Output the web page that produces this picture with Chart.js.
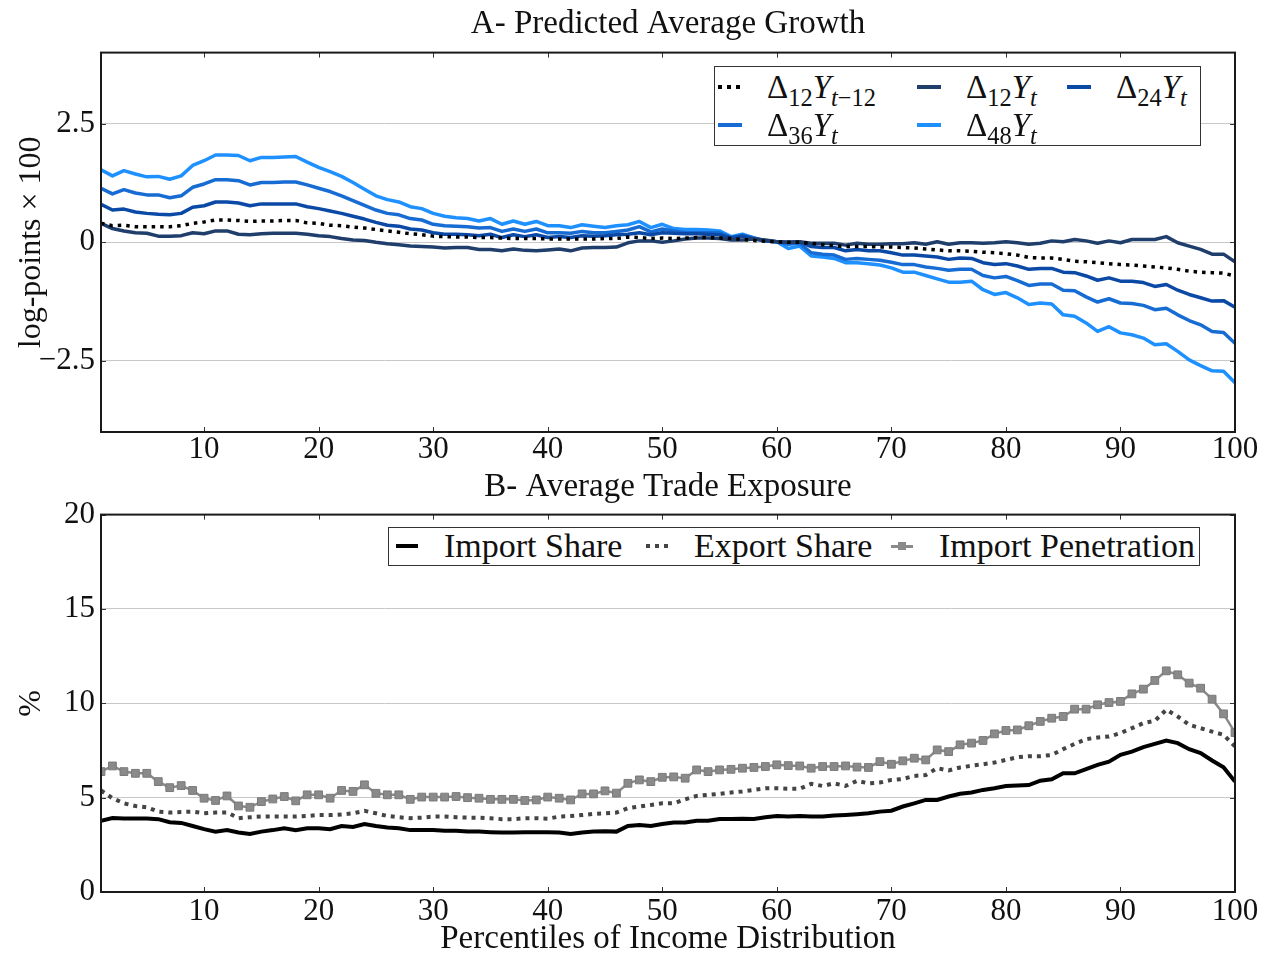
<!DOCTYPE html>
<html>
<head>
<meta charset="utf-8">
<script src="https://cdn.jsdelivr.net/npm/chart.js@4.4.1/dist/chart.umd.min.js"></script>
<style>
  body { margin: 0; background: #fff; }
  #wrap { position: relative; width: 1262px; height: 953px; font-family: "Liberation Serif", serif; }
  canvas { position: absolute; left: 0; }
  #growth { top: 0; }
  #trade { top: 462px; }
  .legend { position: absolute; background: #fff; border: 1px solid #333; box-sizing: border-box; }
  .item { position: absolute; display: flex; align-items: center; font-size: 33px; color: #111; white-space: nowrap; height: 36px; }
  .item i { font-style: italic; }
  .sw { position: relative; width: 24px; height: 10px; margin-right: 25px; }
  sub { font-size: 0.74em; vertical-align: -0.32em; line-height: 0; }
  #tradeLegend .item { font-size: 34px; }
  #tradeLegend .sw { width: 22px; margin-right: 26px; }
</style>
</head>
<body>
<div id="wrap">
  <canvas id="growth" width="1262" height="470"></canvas>
  <canvas id="trade" width="1262" height="491"></canvas>
  <div id="growthLegend" class="legend" style="left:714px;top:66px;width:487px;height:80px;"></div>
  <div id="tradeLegend" class="legend" style="left:388px;top:527px;width:812px;height:39px;"></div>
</div>
<script>
// x categories: income percentiles
const percentiles = Array.from({ length: 100 }, (_, i) => i + 1);
const xTicks = [10, 20, 30, 40, 50, 60, 70, 80, 90, 100];

// PANEL A - predicted average growth (log-points x 100)
const growthLabels = [
  "Δ<sub>12</sub><i>Y</i><sub><i>t</i>−12</sub>",
  "Δ<sub>12</sub><i>Y</i><sub><i>t</i></sub>",
  "Δ<sub>24</sub><i>Y</i><sub><i>t</i></sub>",
  "Δ<sub>36</sub><i>Y</i><sub><i>t</i></sub>",
  "Δ<sub>48</sub><i>Y</i><sub><i>t</i></sub>",
];
const growthTicks = [-2.5, 0, 2.5];

const d12lag = [
  0.40, 0.35, 0.36, 0.33, 0.33, 0.33, 0.33, 0.35, 0.40, 0.43,
  0.47, 0.47, 0.46, 0.44, 0.45, 0.45, 0.46, 0.46, 0.41, 0.40,
  0.36, 0.35, 0.32, 0.30, 0.27, 0.24, 0.21, 0.18, 0.16, 0.13,
  0.12, 0.11, 0.11, 0.10, 0.10, 0.09, 0.08, 0.08, 0.08, 0.07,
  0.07, 0.07, 0.07, 0.07, 0.08, 0.08, 0.11, 0.10, 0.08, 0.09,
  0.08, 0.09, 0.10, 0.10, 0.09, 0.08, 0.06, 0.04, 0.02, 0.01,
  0.00, 0.00, -0.02, -0.05, -0.07, -0.09, -0.09, -0.09, -0.10, -0.10,
  -0.11, -0.12, -0.14, -0.16, -0.18, -0.18, -0.19, -0.21, -0.22, -0.24,
  -0.27, -0.32, -0.33, -0.33, -0.36, -0.40, -0.41, -0.43, -0.45, -0.47,
  -0.48, -0.50, -0.52, -0.54, -0.57, -0.61, -0.63, -0.64, -0.65, -0.71,
];
const d12 = [
  0.40, 0.29, 0.24, 0.20, 0.19, 0.13, 0.13, 0.14, 0.20, 0.18,
  0.24, 0.24, 0.17, 0.16, 0.18, 0.19, 0.19, 0.19, 0.17, 0.14,
  0.12, 0.08, 0.05, 0.04, 0.00, -0.03, -0.05, -0.08, -0.09, -0.10,
  -0.12, -0.11, -0.11, -0.15, -0.15, -0.18, -0.14, -0.17, -0.18, -0.16,
  -0.14, -0.18, -0.12, -0.11, -0.11, -0.10, -0.01, 0.03, 0.03, 0.00,
  0.03, 0.07, 0.09, 0.09, 0.08, 0.05, 0.05, 0.07, 0.05, 0.01,
  0.00, 0.01, -0.02, -0.02, -0.02, -0.06, -0.02, -0.04, -0.04, -0.03,
  -0.03, -0.01, -0.04, 0.01, -0.04, -0.01, -0.01, -0.02, -0.01, 0.01,
  -0.01, -0.04, -0.02, 0.03, 0.01, 0.06, 0.03, -0.02, 0.03, -0.01,
  0.06, 0.06, 0.06, 0.12, -0.01, -0.08, -0.15, -0.25, -0.25, -0.41,
];
const d24 = [
  0.80, 0.68, 0.70, 0.64, 0.61, 0.59, 0.58, 0.61, 0.74, 0.77,
  0.85, 0.85, 0.83, 0.77, 0.81, 0.81, 0.81, 0.81, 0.75, 0.71,
  0.66, 0.61, 0.55, 0.49, 0.42, 0.36, 0.34, 0.28, 0.26, 0.20,
  0.17, 0.17, 0.16, 0.14, 0.17, 0.10, 0.16, 0.12, 0.16, 0.10,
  0.12, 0.10, 0.14, 0.13, 0.14, 0.16, 0.17, 0.20, 0.16, 0.20,
  0.19, 0.18, 0.18, 0.17, 0.16, 0.09, 0.13, 0.07, 0.03, 0.01,
  0.00, 0.01, -0.09, -0.11, -0.11, -0.18, -0.15, -0.18, -0.18, -0.22,
  -0.27, -0.27, -0.29, -0.31, -0.36, -0.33, -0.34, -0.43, -0.47, -0.45,
  -0.50, -0.57, -0.55, -0.55, -0.63, -0.64, -0.71, -0.80, -0.75, -0.82,
  -0.82, -0.85, -0.93, -0.89, -1.01, -1.10, -1.17, -1.24, -1.23, -1.37,
];
const d36 = [
  1.14, 1.02, 1.11, 1.04, 1.00, 1.00, 0.94, 0.98, 1.16, 1.23,
  1.32, 1.32, 1.30, 1.21, 1.26, 1.26, 1.27, 1.27, 1.21, 1.14,
  1.07, 0.98, 0.88, 0.78, 0.68, 0.61, 0.58, 0.50, 0.47, 0.38,
  0.35, 0.34, 0.33, 0.30, 0.31, 0.23, 0.28, 0.23, 0.28, 0.20,
  0.20, 0.19, 0.23, 0.20, 0.20, 0.23, 0.26, 0.33, 0.22, 0.28,
  0.24, 0.20, 0.20, 0.20, 0.20, 0.10, 0.15, 0.09, 0.03, 0.01,
  -0.04, -0.02, -0.22, -0.25, -0.27, -0.36, -0.34, -0.36, -0.38, -0.42,
  -0.47, -0.47, -0.52, -0.55, -0.59, -0.57, -0.57, -0.70, -0.75, -0.72,
  -0.81, -0.91, -0.88, -0.88, -1.01, -1.02, -1.15, -1.26, -1.19, -1.28,
  -1.29, -1.33, -1.42, -1.39, -1.53, -1.65, -1.74, -1.88, -1.90, -2.13,
];
const d48 = [
  1.53, 1.40, 1.51, 1.44, 1.38, 1.39, 1.33, 1.40, 1.62, 1.72,
  1.84, 1.84, 1.83, 1.72, 1.79, 1.79, 1.80, 1.81, 1.69, 1.58,
  1.49, 1.39, 1.26, 1.12, 0.98, 0.90, 0.85, 0.75, 0.71, 0.61,
  0.55, 0.52, 0.50, 0.45, 0.50, 0.38, 0.45, 0.38, 0.44, 0.35,
  0.35, 0.31, 0.37, 0.34, 0.31, 0.35, 0.37, 0.44, 0.31, 0.38,
  0.29, 0.27, 0.27, 0.26, 0.24, 0.12, 0.17, 0.09, 0.03, 0.01,
  -0.13, -0.08, -0.29, -0.31, -0.34, -0.43, -0.43, -0.45, -0.48, -0.54,
  -0.63, -0.63, -0.70, -0.77, -0.84, -0.84, -0.82, -1.00, -1.10, -1.06,
  -1.17, -1.31, -1.28, -1.30, -1.53, -1.56, -1.70, -1.88, -1.78, -1.91,
  -1.95, -2.02, -2.16, -2.14, -2.30, -2.48, -2.60, -2.71, -2.72, -2.96,
];

// PANEL B - average trade exposure (%)
const tradeLabels = ["Import Share", "Export Share", "Import Penetration"];
const tradeTicks = [0, 5, 10, 15, 20];

const importShare = [
  3.77, 3.92, 3.90, 3.90, 3.90, 3.86, 3.70, 3.66, 3.50, 3.33,
  3.20, 3.28, 3.15, 3.08, 3.20, 3.28, 3.38, 3.28, 3.38, 3.38,
  3.33, 3.50, 3.45, 3.60, 3.50, 3.42, 3.38, 3.28, 3.28, 3.28,
  3.25, 3.24, 3.20, 3.20, 3.17, 3.15, 3.15, 3.17, 3.17, 3.17,
  3.15, 3.08, 3.15, 3.20, 3.22, 3.20, 3.50, 3.55, 3.50, 3.60,
  3.68, 3.68, 3.78, 3.78, 3.87, 3.87, 3.88, 3.87, 3.96, 4.03,
  4.00, 4.03, 4.00, 4.00, 4.05, 4.08, 4.12, 4.17, 4.26, 4.31,
  4.53, 4.70, 4.88, 4.88, 5.06, 5.21, 5.27, 5.41, 5.50, 5.62,
  5.64, 5.67, 5.90, 5.97, 6.29, 6.29, 6.51, 6.74, 6.91, 7.27,
  7.44, 7.68, 7.85, 8.03, 7.89, 7.57, 7.36, 6.97, 6.61, 5.85,
];
const exportShare = [
  5.38, 4.97, 4.70, 4.56, 4.49, 4.26, 4.21, 4.24, 4.26, 4.17,
  4.21, 4.22, 3.91, 3.96, 4.00, 4.00, 4.00, 4.00, 4.03, 4.08,
  4.08, 4.11, 4.17, 4.30, 4.17, 4.03, 3.96, 3.91, 3.94, 4.00,
  4.00, 3.96, 3.94, 3.94, 3.91, 3.86, 3.86, 3.91, 3.91, 3.88,
  4.00, 4.03, 4.08, 4.14, 4.17, 4.21, 4.44, 4.53, 4.61, 4.70,
  4.70, 4.91, 5.09, 5.15, 5.20, 5.27, 5.33, 5.41, 5.50, 5.50,
  5.47, 5.47, 5.73, 5.62, 5.76, 5.62, 5.89, 5.76, 5.80, 5.94,
  5.99, 6.15, 6.20, 6.56, 6.44, 6.60, 6.69, 6.77, 6.86, 7.00,
  7.14, 7.20, 7.20, 7.26, 7.57, 7.85, 8.10, 8.19, 8.24, 8.42,
  8.68, 8.95, 9.07, 9.66, 9.30, 8.86, 8.68, 8.50, 8.33, 7.71,
];
const importPenetration = [
  6.38, 6.68, 6.38, 6.29, 6.29, 5.85, 5.53, 5.64, 5.38, 4.97,
  4.85, 5.09, 4.56, 4.49, 4.79, 4.93, 5.06, 4.83, 5.15, 5.15,
  4.97, 5.38, 5.33, 5.68, 5.23, 5.15, 5.15, 4.91, 5.03, 5.03,
  5.03, 5.06, 5.00, 4.97, 4.91, 4.91, 4.91, 4.85, 4.88, 5.03,
  4.97, 4.88, 5.20, 5.20, 5.36, 5.24, 5.76, 5.94, 5.85, 6.08,
  6.10, 6.03, 6.47, 6.38, 6.47, 6.50, 6.56, 6.60, 6.65, 6.74,
  6.70, 6.68, 6.56, 6.65, 6.65, 6.68, 6.62, 6.60, 6.91, 6.77,
  6.95, 7.09, 7.00, 7.53, 7.44, 7.80, 7.89, 8.03, 8.38, 8.56,
  8.59, 8.81, 9.04, 9.21, 9.30, 9.69, 9.69, 9.92, 10.04, 10.10,
  10.50, 10.75, 11.21, 11.72, 11.51, 11.07, 10.80, 10.22, 9.44, 8.45,
];

const FONT = "'Liberation Serif', 'Times New Roman', serif";
const toPoints = (arr) => percentiles.map((p, i) => ({ x: p, y: arr[i] }));

// frame round the plot + small inward ticks (matplotlib look)
const frame = {
  id: "frame",
  afterDatasetsDraw(chart) {
    const {
      ctx,
      chartArea: { left, top, right, bottom },
      scales: { x, y },
    } = chart;
    ctx.save();
    ctx.strokeStyle = "#333";
    ctx.lineWidth = 1;
    ctx.beginPath();
    x.ticks.forEach((t) => {
      const px = Math.round(x.getPixelForValue(t.value)) + 0.5;
      ctx.moveTo(px, bottom);
      ctx.lineTo(px, bottom - 5);
      ctx.moveTo(px, top);
      ctx.lineTo(px, top + 5);
    });
    y.ticks.forEach((t) => {
      const py = Math.round(y.getPixelForValue(t.value)) + 0.5;
      ctx.moveTo(left, py);
      ctx.lineTo(left + 5, py);
      ctx.moveTo(right, py);
      ctx.lineTo(right - 5, py);
    });
    ctx.stroke();
    ctx.lineWidth = 2;
    ctx.strokeStyle = "#1a1a1a";
    ctx.strokeRect(left, top, right - left, bottom - top);
    ctx.restore();
  },
};

const baseOptions = (titleText, titlePad, yTicks, yMin, yMax, yTitle, xTitle, xHeight, xTickPad) => ({
  responsive: false,
  animation: false,
  devicePixelRatio: 1,
  layout: { padding: { left: 0, right: 27, top: 0, bottom: 0 } },
  plugins: {
    legend: { display: false },
    tooltip: { enabled: false },
    title: {
      display: true,
      fullSize: false, // centre over the plot area, not the canvas
      text: titleText,
      color: "#111",
      font: { family: FONT, size: 33, weight: "normal" },
      padding: titlePad,
    },
  },
  scales: {
    x: {
      type: "linear",
      min: 1,
      max: 100,
      afterBuildTicks: (scale) => {
        scale.ticks = xTicks.map((v) => ({ value: v }));
      },
      afterFit: (scale) => {
        scale.height = xHeight;
      },
      grid: { display: false, drawTicks: false },
      border: { display: false },
      ticks: { color: "#111", padding: xTickPad, font: { family: FONT, size: 31 }, maxRotation: 0 },
      title: xTitle
        ? {
            display: true,
            text: xTitle,
            color: "#111",
            font: { family: FONT, size: 33, lineHeight: 1 },
            padding: { top: 0, bottom: -3 },
          }
        : { display: false },
    },
    y: {
      min: yMin,
      max: yMax,
      afterBuildTicks: (scale) => {
        scale.ticks = yTicks.map((v) => ({ value: v }));
      },
      afterFit: (scale) => {
        scale.width = 101;
      },
      grid: { color: "#c8c8c8", lineWidth: 1, drawTicks: false },
      border: { display: false },
      ticks: {
        color: "#111",
        padding: 6,
        font: { family: FONT, size: 31 },
        callback: (v) => String(v).replace("-", "\u2212"),
      },
      title: { display: true, text: yTitle, color: "#111", font: { family: FONT, size: 32 }, padding: { top: 12, bottom: 0 } },
    },
  },
});

const growthChart = new Chart(document.getElementById("growth"), {
  type: "line",
  data: {
    datasets: [
      { label: growthLabels[0], data: toPoints(d12lag), borderColor: "#000000", borderWidth: 3.5, borderDash: [3.5, 5] },
      { label: growthLabels[1], data: toPoints(d12), borderColor: "#1f3e6b", borderWidth: 3.5 },
      { label: growthLabels[2], data: toPoints(d24), borderColor: "#0b49a6", borderWidth: 3.5 },
      { label: growthLabels[3], data: toPoints(d36), borderColor: "#176cd4", borderWidth: 3.5 },
      { label: growthLabels[4], data: toPoints(d48), borderColor: "#1e90ff", borderWidth: 3.5 },
    ].map((d) => ({ ...d, pointRadius: 0, tension: 0, borderJoinStyle: "round" })),
  },
  options: baseOptions(
    "A- Predicted Average Growth",
    { top: 5, bottom: 8 },
    growthTicks, -4, 4,
    "log-points \u00d7 100",
    null, 38, -1
  ),
  plugins: [frame],
});

const tradeChart = new Chart(document.getElementById("trade"), {
  type: "line",
  data: {
    datasets: [
      { label: tradeLabels[0], data: toPoints(importShare), borderColor: "#000000", borderWidth: 4, pointRadius: 0 },
      { label: tradeLabels[1], data: toPoints(exportShare), borderColor: "#444444", borderWidth: 4, borderDash: [4, 5], pointRadius: 0 },
      {
        label: tradeLabels[2],
        data: toPoints(importPenetration),
        borderColor: "#8a8a8a",
        borderWidth: 2.5,
        pointStyle: "rect",
        pointRadius: 5.5,
        pointBackgroundColor: "#8a8a8a",
        pointBorderColor: "#7a7a7a",
        pointBorderWidth: 1,
      },
    ].map((d) => ({ ...d, tension: 0 })),
  },
  options: baseOptions(
    "B- Average Trade Exposure",
    { top: 6, bottom: 7 },
    tradeTicks, 0, 20,
    "%",
    "Percentiles of Income Distribution", 61, 1
  ),
  plugins: [frame],
});

// HTML legends (for real sub-scripts)
function swatchHtml(ds) {
  const c = ds.borderColor;
  if (ds.pointStyle === "rect") {
    return `<div class="sw"><div style="position:absolute;left:0;right:0;top:4px;height:2.5px;background:${c}"></div>` +
      `<div style="position:absolute;left:7px;top:1px;width:8px;height:8px;background:${c}"></div></div>`;
  }
  if (ds.borderDash) {
    return `<div class="sw"><div style="position:absolute;left:0;right:0;top:3px;height:4px;` +
      `background:repeating-linear-gradient(90deg, ${c} 0 4px, transparent 4px 9px)"></div></div>`;
  }
  return `<div class="sw"><div style="position:absolute;left:0;right:0;top:3px;height:4px;background:${c}"></div></div>`;
}

function buildLegend(chart, el, positions) {
  el.innerHTML = chart.data.datasets
    .map((ds, i) => `<div class="item" style="left:${positions[i][0]}px;top:${positions[i][1]}px">${swatchHtml(ds)}<span>${ds.label}</span></div>`)
    .join("");
}

buildLegend(growthChart, document.getElementById("growthLegend"), [
  [3, 2], [202, 2], [352, 2], [3, 40], [202, 40],
]);
buildLegend(tradeChart, document.getElementById("tradeLegend"), [
  [7, 0], [257, 0], [502, 0],
]);
</script>
</body>
</html>
